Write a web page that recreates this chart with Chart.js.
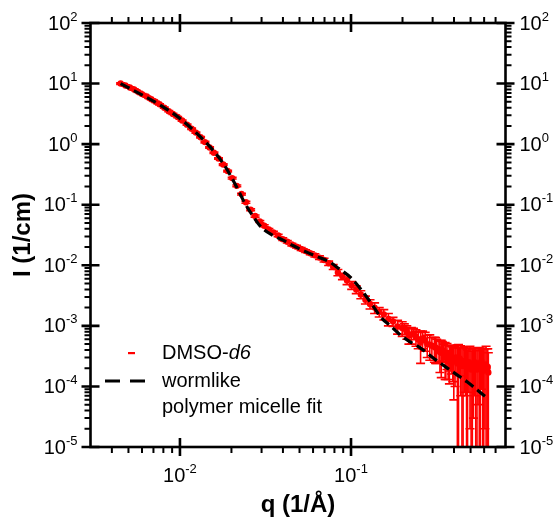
<!DOCTYPE html>
<html>
<head>
<meta charset="utf-8">
<script src="https://cdn.jsdelivr.net/npm/chart.js@4"></script>
<style>
  body { margin: 0; background: #fff; }
  #sansChart { display: block; }
</style>
</head>
<body>
<canvas id="sansChart" width="554" height="523"></canvas>
<script>
// scattering data, q in 1/Å, I in 1/cm (two detector settings overlap above 0.2)
const qValues = [
  0.0045, 0.0048, 0.0051, 0.0054, 0.0057, 0.0060, 0.0064, 0.0068, 0.0072, 0.0076,
  0.0081, 0.0086, 0.0091, 0.0097, 0.0103, 0.0110, 0.0117, 0.0124, 0.0132, 0.0140,
  0.0149, 0.0158, 0.0168, 0.0179, 0.0190, 0.0202, 0.0215, 0.0229, 0.0243, 0.0259,
  0.0275, 0.0293, 0.0311, 0.0331, 0.0352, 0.0375, 0.0399, 0.0424, 0.0451, 0.0480,
  0.0511, 0.0543, 0.0578, 0.0615, 0.0654, 0.0696, 0.0740, 0.0787, 0.0838, 0.0891,
  0.0948, 0.1009, 0.1073, 0.1141, 0.1214, 0.1292, 0.1374, 0.1462, 0.1555, 0.1654,
  0.1760, 0.1872, 0.1992, 0.2119, 0.2254, 0.2398, 0.2551, 0.2714, 0.2887, 0.3072,
  0.3170, 0.3268, 0.3370, 0.3476, 0.3585, 0.3698, 0.3814, 0.3934, 0.4057, 0.4185,
  0.4316, 0.4452, 0.4591, 0.4736, 0.4884, 0.5037, 0.5196, 0.5359, 0.5527, 0.5701,
  0.5880, 0.6064, 0.6255, 0.6350,
  0.205, 0.218, 0.232, 0.247, 0.262, 0.279, 0.297, 0.312, 0.331, 0.342,
  0.355, 0.364, 0.376, 0.387, 0.399, 0.411, 0.425, 0.438, 0.452, 0.466,
  0.480, 0.496, 0.512, 0.528, 0.545, 0.562, 0.579, 0.597, 0.616, 0.630
];
const intensity = [
  10.0, 9.3, 8.6, 8.0, 7.3, 6.7, 6.1, 5.5, 5.0, 4.55,
  4.0, 3.5, 3.15, 2.8, 2.45, 2.1, 1.8, 1.55, 1.3, 1.08,
  0.88, 0.72, 0.58, 0.46, 0.36, 0.275, 0.205, 0.15, 0.11, 0.083,
  0.065, 0.053, 0.045, 0.039, 0.035, 0.031, 0.027, 0.0245, 0.022, 0.0203,
  0.0186, 0.0172, 0.0158, 0.0146, 0.0134, 0.0122, 0.0108, 0.0094, 0.0076, 0.0066,
  0.0056, 0.0047, 0.0040, 0.0033, 0.0027, 0.0023, 0.0020, 0.0017, 0.00155, 0.0013,
  0.00118, 0.00098, 0.00092, 0.00080, 0.00072, 0.00066, 0.00053, 0.00058, 0.00049, 0.00045,
  0.00042, 0.00041, 0.00036, 0.00038, 0.00030, 0.00026, 0.00033, 0.00028, 0.00027, 0.00024,
  0.00029, 0.00022, 0.00026, 0.00021, 0.00025, 0.00019, 0.00023, 0.00020, 0.00024, 0.00021,
  0.00018, 0.00022, 0.00019, 0.00017,
  0.00090, 0.00070, 0.00075, 0.00060, 0.00062, 0.00050, 0.00047, 0.00044, 0.00037, 0.00040,
  0.00033, 0.00035, 0.00029, 0.00031, 0.00026, 0.00030, 0.00025, 0.00027, 0.00022, 0.00026,
  0.00020, 0.00024, 0.00021, 0.00025, 0.00019, 0.00022, 0.00026, 0.00020, 0.00023, 0.00021
];
const intensityErr = [
  0.3, 0.25, 0.22, 0.2, 0.18, 0.16, 0.14, 0.12, 0.11, 0.1,
  0.09, 0.08, 0.07, 0.06, 0.055, 0.05, 0.045, 0.04, 0.035, 0.03,
  0.025, 0.02, 0.017, 0.014, 0.011, 0.009, 0.007, 0.005, 0.004, 0.003,
  0.0025, 0.002, 0.0018, 0.0016, 0.0015, 0.0014, 0.0013, 0.0012, 0.0011, 0.001,
  0.001, 0.0009, 0.0009, 0.0009, 0.0009, 0.0009, 0.0009, 0.0009, 0.0009, 0.0008,
  0.0008, 0.0007, 0.0006, 0.0005, 0.0004, 0.0004, 0.0004, 0.0003, 0.0003, 0.0003,
  0.0002, 0.00025, 0.00025, 0.0002, 0.00022, 0.0002, 0.00029, 0.0002, 0.00022, 0.0002,
  0.00018, 0.00015, 0.00022, 0.00012, 0.00017, 0.00013, 0.00015, 0.00016, 0.00017, 0.00024,
  0.00014, 0.00022, 0.00018, 0.00021, 0.00017, 0.00019, 0.00020, 0.00022, 0.00019, 0.00021,
  0.00024, 0.00020, 0.00023, 0.00019,
  0.00018, 0.0002, 0.00016, 0.00018, 0.0002, 0.0002, 0.00017, 0.0002, 0.0002, 0.00015,
  0.0002, 0.00016, 0.00018, 0.00015, 0.0002, 0.00013, 0.00024, 0.0002, 0.00022, 0.00019,
  0.0002, 0.00022, 0.00021, 0.00018, 0.0002, 0.00022, 0.00017, 0.00021, 0.00023, 0.00021
];

// wormlike polymer micelle model
const fitQ = [
  0.0045, 0.006, 0.008, 0.01, 0.0125, 0.015, 0.018, 0.021, 0.024, 0.027,
  0.030, 0.035, 0.040, 0.046, 0.055, 0.065, 0.0757, 0.085, 0.1, 0.1186,
  0.135, 0.149, 0.17, 0.186, 0.2, 0.225, 0.255, 0.305, 0.382, 0.479, 0.61
];
const fitI = [
  10.0, 6.5, 4.1, 2.65, 1.52, 0.9, 0.47, 0.22, 0.105, 0.062,
  0.042, 0.031, 0.026, 0.021, 0.0165, 0.0135, 0.0112, 0.0088, 0.0062, 0.0035,
  0.0021, 0.0014, 0.001, 0.00079, 0.00066, 0.00053, 0.00043, 0.00029, 0.000184, 0.000118, 0.000068
];

const xMajorTicks = [0.01, 0.1];
const xMajorExp = ['-2', '-1'];
const xMinorTicks = [0.004, 0.005, 0.006, 0.007, 0.008, 0.009,
  0.02, 0.03, 0.04, 0.05, 0.06, 0.07, 0.08, 0.09,
  0.2, 0.3, 0.4, 0.5, 0.6, 0.7];
const yMajorTicks = [1e-5, 1e-4, 1e-3, 1e-2, 1e-1, 1, 10, 100];
const yMajorExp = ['-5', '-4', '-3', '-2', '-1', '0', '1', '2'];

const RED = '#ff0000';
const FONT = '"Liberation Sans", Arial, sans-serif';

function yMinorTicks() {
  const out = [];
  for (let d = 0; d < yMajorTicks.length - 1; d++) {
    for (let m = 2; m <= 9; m++) out.push(yMajorTicks[d] * m);
  }
  return out;
}

// "10" with a raised exponent; align is where x sits: left, right or center
function drawPower(ctx, exp, x, y, align) {
  ctx.font = '20px ' + FONT;
  const wBase = ctx.measureText('10').width;
  ctx.font = '13px ' + FONT;
  const wExp = ctx.measureText(exp).width;
  const total = wBase + wExp;
  let x0 = x;
  if (align === 'right') x0 = x - total;
  if (align === 'center') x0 = x - total / 2;
  ctx.textAlign = 'left';
  ctx.textBaseline = 'middle';
  ctx.font = '20px ' + FONT;
  ctx.fillText('10', x0, y + 1);
  ctx.font = '13px ' + FONT;
  ctx.fillText(exp, x0 + wBase, y - 6);
}

const errorBars = {
  id: 'errorBars',
  beforeDatasetsDraw(chart) {
    const { ctx, chartArea: a, scales: { x, y } } = chart;
    ctx.save();
    ctx.beginPath();
    ctx.rect(a.left, a.top, a.right - a.left, a.bottom - a.top);
    ctx.clip();
    ctx.strokeStyle = RED;
    ctx.lineWidth = 1.6;
    qValues.forEach((q, i) => {
      const px = x.getPixelForValue(q);
      const lo = intensity[i] - intensityErr[i];
      const yTop = y.getPixelForValue(intensity[i] + intensityErr[i]);
      const yBot = lo > 0 ? y.getPixelForValue(lo) : a.bottom + 5;
      ctx.beginPath();
      ctx.moveTo(px, yTop);
      ctx.lineTo(px, yBot);
      ctx.moveTo(px - 4.5, yTop);
      ctx.lineTo(px + 4.5, yTop);
      if (lo > 0) {
        ctx.moveTo(px - 4.5, yBot);
        ctx.lineTo(px + 4.5, yBot);
      }
      ctx.stroke();
    });
    ctx.restore();
  }
};

const frameAndLabels = {
  id: 'frameAndLabels',
  afterDraw(chart) {
    const { ctx, chartArea: a, scales: { x, y } } = chart;
    ctx.save();
    ctx.strokeStyle = '#000';
    ctx.fillStyle = '#000';
    ctx.lineCap = 'butt';

    // minor ticks point outwards
    ctx.lineWidth = 2;
    ctx.beginPath();
    xMinorTicks.forEach(v => {
      const px = x.getPixelForValue(v);
      ctx.moveTo(px, a.bottom); ctx.lineTo(px, a.bottom + 6);
      ctx.moveTo(px, a.top); ctx.lineTo(px, a.top - 6);
    });
    yMinorTicks().forEach(v => {
      const py = y.getPixelForValue(v);
      ctx.moveTo(a.left, py); ctx.lineTo(a.left - 6, py);
      ctx.moveTo(a.right, py); ctx.lineTo(a.right + 6, py);
    });
    ctx.stroke();

    // major ticks cross the frame
    ctx.lineWidth = 2.6;
    ctx.beginPath();
    xMajorTicks.forEach(v => {
      const px = x.getPixelForValue(v);
      ctx.moveTo(px, a.bottom - 9); ctx.lineTo(px, a.bottom + 9);
      ctx.moveTo(px, a.top - 9); ctx.lineTo(px, a.top + 9);
    });
    yMajorTicks.forEach(v => {
      const py = y.getPixelForValue(v);
      ctx.moveTo(a.left - 9, py); ctx.lineTo(a.left + 9, py);
      ctx.moveTo(a.right - 9, py); ctx.lineTo(a.right + 9, py);
    });
    ctx.stroke();

    ctx.lineWidth = 2.6;
    ctx.strokeRect(a.left, a.top, a.right - a.left, a.bottom - a.top);

    // tick labels
    xMajorTicks.forEach((v, i) => {
      drawPower(ctx, xMajorExp[i], x.getPixelForValue(v), a.bottom + 28, 'center');
    });
    yMajorTicks.forEach((v, i) => {
      const py = y.getPixelForValue(v);
      drawPower(ctx, yMajorExp[i], a.left - 13, py, 'right');
      drawPower(ctx, yMajorExp[i], a.right + 14, py, 'left');
    });

    // axis titles
    ctx.font = 'bold 24px ' + FONT;
    ctx.textAlign = 'center';
    ctx.textBaseline = 'middle';
    ctx.fillText('q (1/Å)', (a.left + a.right) / 2, 505);
    ctx.save();
    ctx.translate(23, (a.top + a.bottom) / 2);
    ctx.rotate(-Math.PI / 2);
    ctx.fillText('I (1/cm)', 0, 0);
    ctx.restore();

    // legend
    ctx.fillStyle = RED;
    ctx.fillRect(128, 352, 7, 2.2);
    ctx.fillStyle = '#000';
    ctx.textAlign = 'left';
    ctx.font = '20px ' + FONT;
    ctx.fillText('DMSO-', 162, 353);
    const w = ctx.measureText('DMSO-').width;
    ctx.font = 'italic 20px ' + FONT;
    ctx.fillText('d6', 162 + w, 353);
    ctx.font = '20px ' + FONT;
    ctx.fillText('wormlike', 162, 381);
    ctx.fillText('polymer micelle fit', 162, 407);
    ctx.lineWidth = 3;
    ctx.setLineDash([15, 10]);
    ctx.beginPath();
    ctx.moveTo(105, 381);
    ctx.lineTo(146, 381);
    ctx.stroke();
    ctx.restore();
  }
};

new Chart(document.getElementById('sansChart'), {
  type: 'scatter',
  data: {
    datasets: [
      {
        label: 'DMSO-d6',
        data: qValues.map((q, i) => ({ x: q, y: intensity[i] })),
        backgroundColor: RED,
        borderColor: RED,
        pointRadius: 3.2,
        pointBorderWidth: 0,
        showLine: false,
        order: 1
      },
      {
        label: 'wormlike polymer micelle fit',
        data: fitQ.map((q, i) => ({ x: q, y: fitI[i] })),
        borderColor: '#000',
        borderWidth: 3.2,
        borderDash: [10, 5],
        pointRadius: 0,
        showLine: true,
        cubicInterpolationMode: 'monotone',
        order: 0
      }
    ]
  },
  options: {
    responsive: false,
    animation: false,
    layout: { padding: { left: 90.5, right: 48.5, top: 23, bottom: 76 } },
    scales: {
      x: { type: 'logarithmic', min: 0.003, max: 0.8, display: false },
      y: { type: 'logarithmic', min: 1e-5, max: 100, display: false }
    },
    plugins: {
      legend: { display: false },
      tooltip: { enabled: false }
    }
  },
  plugins: [errorBars, frameAndLabels]
});
</script>
</body>
</html>
